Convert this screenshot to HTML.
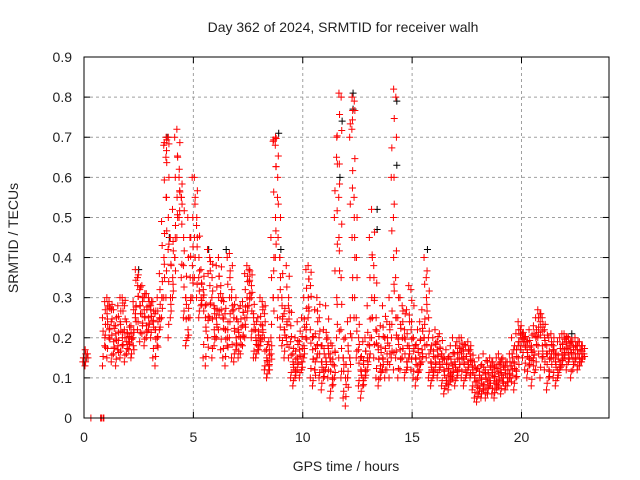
<!DOCTYPE html>
<html><head><meta charset="utf-8"><style>
html,body{margin:0;padding:0;background:#fff;}
svg{display:block;font-family:"Liberation Sans",sans-serif;}
</style></head><body>
<svg id="chart" width="640" height="480">
<text x="343" y="32" text-anchor="middle" font-size="14" fill="#222">Day 362 of 2024, SRMTID for receiver walh</text>
<text x="346" y="471" text-anchor="middle" font-size="14" fill="#222">GPS time / hours</text>
<text transform="translate(18,238) rotate(-90)" text-anchor="middle" font-size="14" fill="#222">SRMTID / TECUs</text>
<g id="grid"></g>
<g id="marks"></g>
<rect x="84" y="57" width="525" height="361" fill="none" stroke="#000" stroke-width="1"/>
</svg>
<script>
const xTicks=[0,5,10,15,20];
const yTicks=[0,0.1,0.2,0.3,0.4,0.5,0.6,0.7,0.8,0.9];
const hours=[0,0.1,0.37,0.82,
0.9,1.0,1.1,1.2,1.3,1.4,1.5,1.6,1.7,1.8,
1.9,2.0,2.1,2.2,2.3,2.4,2.5,2.6,2.7,2.8,
2.9,3.0,3.1,3.2,3.3,3.4,3.5,3.6,3.7,3.8,
3.9,4.0,4.1,4.2,4.3,4.4,4.5,4.6,4.7,4.8,
4.9,5.0,5.1,5.2,5.3,5.4,5.5,5.6,5.7,5.8,
5.9,6.0,6.1,6.2,6.3,6.4,6.5,6.6,6.7,6.8,
6.9,7.0,7.1,7.2,7.3,7.4,7.5,7.6,7.7,7.8,
7.9,8.0,8.1,8.2,8.3,8.4,8.5,8.6,8.7,8.8,
8.9,9.0,9.1,9.2,9.3,9.4,9.5,9.6,9.7,9.8,
9.9,10.0,10.1,10.2,10.3,10.4,10.5,10.6,10.7,10.8,
10.9,11.0,11.1,11.2,11.3,11.4,11.5,11.6,11.7,11.8,
11.9,12.0,12.1,12.2,12.3,12.4,12.5,12.6,12.7,12.8,
12.9,13.0,13.1,13.2,13.3,13.4,13.5,13.6,13.7,13.8,
13.9,14.0,14.1,14.2,14.3,14.4,14.5,14.6,14.7,14.8,
14.9,15.0,15.1,15.2,15.3,15.4,15.5,15.6,15.7,15.8,
15.9,16.0,16.1,16.2,16.3,16.4,16.5,16.6,16.7,16.8,
16.9,17.0,17.1,17.2,17.3,17.4,17.5,17.6,17.7,17.8,
17.9,18.0,18.1,18.2,18.3,18.4,18.5,18.6,18.7,18.8,
18.9,19.0,19.1,19.2,19.3,19.4,19.5,19.6,19.7,19.8,
19.9,20.0,20.1,20.2,20.3,20.4,20.5,20.6,20.7,20.8,
20.9,21.0,21.1,21.2,21.3,21.4,21.5,21.6,21.7,21.8,
21.9,22.0,22.1,22.2,22.3,22.4,22.5,22.6,22.7,22.8];
const srmtid=[[.14,.17],[.13,.16],[0],[0,0,0],
[.13,.2,.25],[.18,.26,.29],[.15,.22,.3],[.2,.27,.29],[.14,.19,.24],[.16,.21,.27],[.13,.18,.23],[.17,.24,.28],[.15,.2,.3],[.18,.28,.3],
[.14,.19,.22],[.16,.2,.24],[.17,.21,.19],[.15,.18,.23],[.2,.26,.29],[.25,.33,.37],[.22,.28,.35],[.19,.26,.32],[.21,.27,.33],[.18,.23,.3],
[.2,.25,.31],[.22,.27,.3],[.2,.24,.28],[.15,.22,.29],[.13,.2,.26],[.18,.25,.3],[.22,.3,.36],[.25,.4,.49],[.3,.55,.68,.7],[.3,.5,.65,.7],
[.2,.3,.42],[.25,.35,.45],[.3,.4,.52],[.4,.55,.7],[.45,.62,.72],[.5,.55,.6],[.35,.45,.55],[.25,.3,.38],[.18,.22,.3],[.2,.35,.5],
[.25,.38,.45],[.3,.45,.6],[.35,.5,.6],[.3,.4,.48],[.25,.3,.35],[.28,.32,.37],[.15,.25,.3],[.13,.2,.28],[.2,.33,.42],[.25,.35,.4],
[.15,.22,.3],[.18,.25,.28],[.2,.3,.38],[.22,.33,.4],[.17,.25,.31],[.15,.22,.3],[.13,.2,.26],[.18,.3,.4],[.2,.32,.41],[.15,.25,.3],
[.14,.2,.27],[.17,.22,.3],[.15,.2,.24],[.16,.23,.28],[.18,.25,.29],[.2,.3,.36],[.25,.34,.38],[.28,.33,.37],[.2,.25,.3],[.15,.2,.26],
[.15,.18,.22],[.17,.2,.25],[.18,.23,.3],[.2,.26,.29],[.12,.15,.2],[.1,.13,.17],[.12,.16,.19],[.2,.3,.45],[.3,.5,.69,.7],[.4,.6,.68],
[.25,.4,.55],[.2,.28,.4],[.18,.22,.3],[.15,.2,.26],[.2,.3,.38],[.15,.23,.28],[.1,.14,.19],[.08,.12,.16],[.1,.15,.2],[.12,.17,.24],
[.1,.14,.19],[.12,.18,.25],[.15,.22,.3],[.2,.3,.37],[.25,.33,.38],[.1,.17,.22],[.08,.12,.2],[.12,.18,.27],[.15,.25,.3],[.1,.14,.2],
[.07,.12,.18],[.1,.15,.22],[.12,.18,.28],[.1,.16,.2],[.05,.1,.15],[.08,.13,.18],[.1,.3,.5,.7],[.2,.45,.65,.81],[.15,.35,.55,.8],[.1,.15,.22],
[.05,.1,.15],[.03,.1,.2],[.1,.15,.24],[.15,.45,.7,.8],[.2,.5,.72,.79],[.25,.4,.55],[.15,.2,.25],[.08,.12,.17],[.05,.1,.15],[.08,.12,.19],
[.1,.15,.2],[.12,.18,.28],[.15,.3,.45],[.2,.35,.52],[.15,.25,.38],[.1,.17,.22],[.08,.13,.18],[.1,.15,.23],[.12,.2,.28],[.1,.16,.2],
[.12,.18,.24],[.1,.2,.3],[.15,.4,.6,.82],[.12,.25,.5,.8],[.15,.2,.35],[.1,.17,.25],[.12,.2,.3],[.15,.22,.28],[.1,.14,.2],[.12,.18,.27],
[.15,.22,.33],[.12,.2,.32],[.1,.15,.2],[.08,.13,.18],[.1,.15,.22],[.12,.17,.24],[.14,.2,.27],[.2,.3,.4],[.15,.25,.35],[.1,.14,.2],
[.08,.12,.17],[.1,.15,.2],[.12,.17,.22],[.1,.14,.19],[.12,.16,.21],[.08,.12,.16],[.06,.1,.15],[.08,.12,.17],[.07,.11,.15],[.09,.13,.18],
[.1,.14,.2],[.08,.12,.16],[.1,.15,.19],[.12,.16,.2],[.1,.15,.2],[.08,.12,.17],[.1,.14,.18],[.12,.16,.19],[.1,.13,.17],[.07,.1,.14],
[.05,.09,.14],[.04,.08,.12],[.06,.1,.15],[.05,.08,.13],[.07,.11,.16],[.05,.09,.12],[.06,.1,.14],[.08,.12,.15],[.06,.1,.14],[.05,.09,.13],
[.07,.11,.15],[.08,.12,.16],[.06,.1,.14],[.09,.12,.15],[.07,.1,.13],[.08,.11,.14],[.1,.13,.16],[.09,.14,.2],[.07,.12,.17],[.1,.15,.21],
[.18,.21,.24],[.17,.2,.22],[.15,.19,.21],[.12,.17,.2],[.1,.15,.19],[.13,.18,.22],[.08,.13,.17],[.15,.2,.23],[.12,.18,.25],[.2,.24,.27],
[.1,.18,.26],[.15,.2,.25],[.12,.18,.22],[.07,.12,.16],[.1,.15,.2],[.15,.18,.21],[.1,.14,.17],[.08,.12,.16],[.1,.14,.19],[.12,.16,.2],
[.13,.17,.21],[.15,.19,.21],[.12,.16,.2],[.14,.17,.2],[.1,.15,.19],[.12,.16,.19],[.14,.17,.2],[.12,.15,.18],[.13,.16,.19],[.14,.16,.18]];
const blackHours=[0.1,2.5,3.8,3.9,5.7,6.5,8.9,9.0,11.7,11.8,12.3,12.3,13.4,13.4,14.3,14.3,15.7,22.3];
const blackValues=[0.15,0.37,0.7,0.45,0.42,0.42,0.71,0.42,0.6,0.74,0.81,0.77,0.52,0.47,0.79,0.63,0.42,0.21];

const X0=84,X1=609,Y0=418,Y1=57,XMAX=24,YMAX=0.9;
const xs=v=>X0+(X1-X0)*v/XMAX;
const ys=v=>Y0-(Y0-Y1)*v/YMAX;
const NS='http://www.w3.org/2000/svg';
const grid=document.getElementById('grid'),marks=document.getElementById('marks'),svg=document.getElementById('chart');
function mk(tag,attrs,parent){const e=document.createElementNS(NS,tag);for(const k in attrs)e.setAttribute(k,attrs[k]);parent.appendChild(e);return e;}
xTicks.forEach(t=>{const x=xs(t);
 if(t>0){const g=mk('line',{x1:x,x2:x,y1:Y0,y2:Y1,stroke:'#a0a0a0','stroke-dasharray':'3,3'},grid);
 
 }
 mk('line',{x1:x,x2:x,y1:Y0,y2:Y0-6,stroke:'#000'},grid);
 mk('line',{x1:x,x2:x,y1:Y1,y2:Y1+6,stroke:'#000'},grid);
 const l=mk('text',{x:x,y:442,'text-anchor':'middle','font-size':'14',fill:'#222'},svg);l.textContent=t;
 
 
});
yTicks.forEach(t=>{const y=ys(t);
 if(t>0){const g=mk('line',{x1:X0,x2:X1,y1:y,y2:y,stroke:'#a0a0a0','stroke-dasharray':'3,3'},grid);
 
 }
 mk('line',{x1:X0,x2:X0+6,y1:y,y2:y,stroke:'#000'},grid);
 mk('line',{x1:X1,x2:X1-6,y1:y,y2:y,stroke:'#000'},grid);
 const l=mk('text',{x:72,y:y+5,'text-anchor':'end','font-size':'14',fill:'#222'},svg);l.textContent=(t===0?'0':t.toFixed(1));
 
 
});
function plus(x,y,c){const p=mk('path',{d:`M${x-3.5},${y}H${x+3.5}M${x},${y-3.5}V${y+3.5}`,stroke:c,'stroke-width':'1',fill:'none'},marks);return p;}
blackHours.forEach((h,i)=>{const p=plus(xs(h),ys(blackValues[i]),'#000');
 
 });
hours.forEach((h,i)=>{srmtid[i].forEach((v,j)=>{
 const p=plus(xs(h)+(j%2?1.2:-1.2),ys(v),'#ff0000');
 
 
 if(j>0){const a=srmtid[i][j-1];
  [1/3,2/3].forEach((f,k)=>{const m=a+(v-a)*f;
  const q=plus(xs(h)+(k?1.8:-0.6),ys(m),'#ff0000');
  
  });}
});});
</script>
</body></html>
